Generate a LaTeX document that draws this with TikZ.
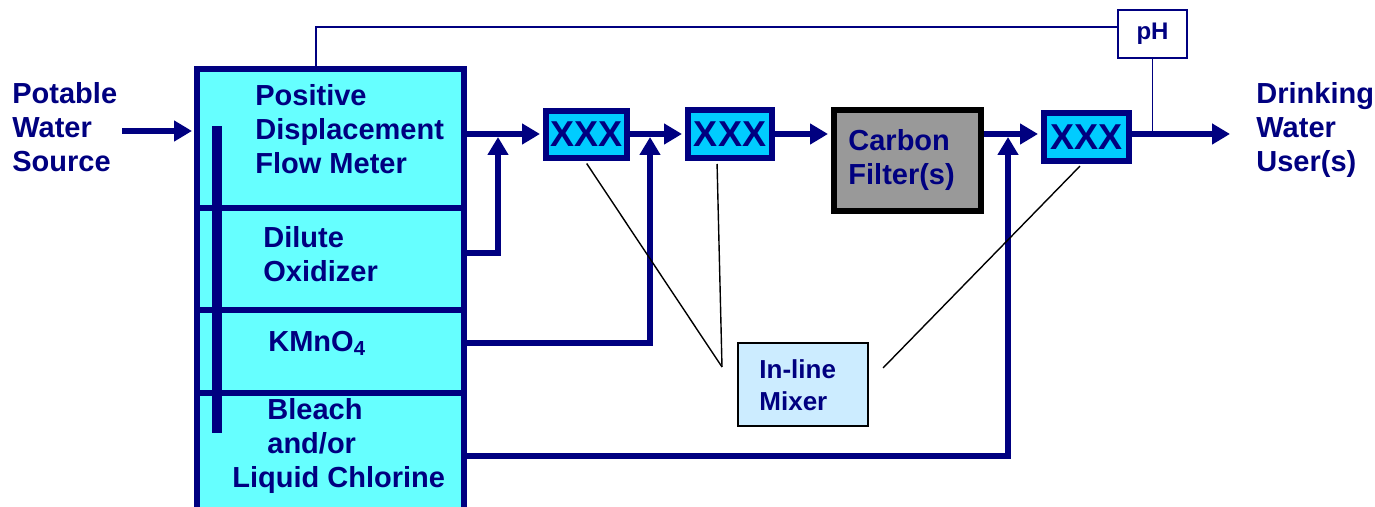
\documentclass[tikz,border=0pt]{standalone}
\usepackage{fontspec}
\setmainfont{Liberation Sans}
\usetikzlibrary{arrows.meta,calc}
\definecolor{navy}{RGB}{0,0,128}
\definecolor{blkfill}{RGB}{102,255,255}
\definecolor{xxxfill}{RGB}{0,204,255}
\definecolor{carbfill}{RGB}{153,153,153}
\definecolor{mixfill}{RGB}{204,236,255}
\begin{document}
\begin{tikzpicture}[x=0.5pt,y=-0.5pt,
  lbl/.style={font=\fontsize{14.5}{17}\selectfont\bfseries, text=navy, inner sep=0pt, align=left, anchor=base west},
  smlbl/.style={font=\fontsize{13}{16}\selectfont\bfseries, text=navy, inner sep=0pt, align=left, anchor=base west},
  blk/.style={draw=navy, line width=3pt, fill=blkfill, inner sep=0pt, anchor=north west, minimum width=133.5pt},
  xxx/.style={draw=navy, line width=3pt, fill=xxxfill, inner sep=0pt, font=\fontsize{18}{18}\selectfont\bfseries, text=navy},
  flow/.style={draw=navy, line width=3pt},
  arr/.style={flow, -{Triangle[length=9pt,width=10pt]}},
  thinline/.style={draw=navy, line width=0.8pt},
  pointer/.style={draw=black, line width=0.7pt}]
\useasboundingbox (0,0) rectangle (1375,507);
\clip (0,0) rectangle (1375,507);

% big block compartments
\node[blk, minimum height=69.5pt] (fm) at (194,66) {};
\node[blk, minimum height=51pt] (ox) at (194,205) {};
\node[blk, minimum height=41.5pt] (km) at (194,307) {};
\node[blk, minimum height=70pt] (bl) at (194,390) {};
\fill[navy] (212,126) rectangle (222,433);

% labels in block (base anchor = last line's baseline)
\node[lbl] (fmt) at (255,174) {Positive\\Displacement\\Flow Meter};
\node[lbl] (oxt) at (263,282) {Dilute\\Oxidizer};
\node[lbl] (kmt) at (268,351) {KMnO\textsubscript{4}};
\node[lbl] (blt) at (232,487) {\hspace*{17.5pt}Bleach\\\hspace*{17.5pt}and/or\\Liquid Chlorine};

% outer labels
\node[lbl] (src) at (12,172) {Potable\\Water\\Source};
\node[lbl] (usr) at (1256,172) {Drinking\\Water\\User(s)};

% process boxes
\node[xxx, minimum width=40.5pt, minimum height=23.5pt] (x1) at (586.5,134.5) {XXX};
\node[xxx, minimum width=42pt, minimum height=24pt] (x2) at (730,134) {XXX};
\node[draw=black, line width=3pt, fill=carbfill, inner sep=0pt, minimum width=73.5pt, minimum height=50.5pt] (cf) at (907.5,160.5) {};
\node[lbl] (cft) at (848,185) {Carbon\\Filter(s)};
\node[xxx, minimum width=42.5pt, minimum height=24pt] (x3) at (1086.5,137) {XXX};

% pH sensor
\node[draw=navy, line width=0.9pt, fill=white, minimum width=34.5pt, minimum height=24pt, inner sep=0pt, font=\fontsize{12}{12}\selectfont\bfseries, text=navy] (ph) at (1152.5,34) {pH};

% mixer
\node[draw=black, line width=0.8pt, fill=mixfill, minimum width=65pt, minimum height=41.5pt, inner sep=0pt] (mx) at (803,384.5) {};
\node[smlbl] (mxt) at (759,410) {In-line\\Mixer};

% coordinates
\coordinate (in) at (122,131);
\coordinate (main) at (0,134);
\coordinate (out) at (1230,134);
\coordinate (j1) at (498,137);
\coordinate (j2) at (650,137);
\coordinate (j3) at (1008,137);
\coordinate (t0) at (316,27);
\coordinate (p1) at (722,367);
\coordinate (p2) at (883,368);

% main flow
\draw[arr, shorten >=1pt] (in) -- (fm.west |- in);
\draw[arr, shorten >=1.5pt] (fm.east |- main) -- (x1.west |- main);
\draw[arr, shorten >=1.5pt] (x1.east |- main) -- (x2.west |- main);
\draw[arr, shorten >=1.5pt] (x2.east |- main) -- (cf.west |- main);
\draw[arr, shorten >=1.5pt] (cf.east |- main) -- (x3.west |- main);
\draw[arr] (x3.east |- main) -- (out);

% chemical feeds
\draw[arr] (ox.east |- 0,253) -| (j1);
\draw[arr] (km.east |- 0,343) -| (j2);
\draw[arr] (bl.east |- 0,456) -| (j3);

% pH connections
\draw[thinline] (fm.north -| t0) -- (t0) -- (ph.west |- t0);
\draw[thinline] (ph.south) -- (ph.south |- main);

% mixer pointers
\draw[pointer, shorten <=1.5pt] (x1.south -| 585,0) -- (p1);
\draw[pointer, shorten <=1.5pt] (x2.south -| 717,0) -- (p1);
\draw[pointer, shorten <=1.5pt] (x3.south -| 1082,0) -- (p2);
\end{tikzpicture}
\end{document}
